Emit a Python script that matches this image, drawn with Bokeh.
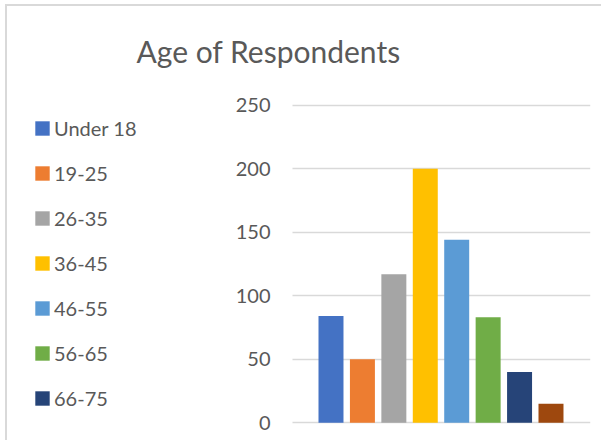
from bokeh.plotting import figure
from bokeh.models import Range1d, Legend, LegendItem, ColumnDataSource, FixedTicker
from bokeh.embed import file_html
from bokeh.resources import INLINE

categories = ["Under 18", "19-25", "26-35", "36-45", "46-55", "56-65", "66-75", "76+"]
counts = [84, 50, 117, 200, 144, 83, 40, 15]
colors = ["#4472C4", "#ED7D31", "#A5A5A5", "#FFC000", "#5B9BD5", "#70AD47", "#264478", "#9E480E"]
y_ticks = [0, 50, 100, 150, 200, 250]

FONT = "Lato"
GREY = "#595959"

X_LEFT, AXIS_X, X_RIGHT = -9.561, -1.225, 8.257

p = figure(width=596, height=436, output_backend="svg", toolbar_location=None,
           x_range=Range1d(X_LEFT, X_RIGHT), y_range=Range1d(-10, 260),
           min_border_left=23, min_border_right=13, min_border_top=86, min_border_bottom=7)

p.title.text = "Age of Respondents"
p.title.text_font = FONT
p.title.text_font_size = "30px"
p.title.text_font_style = "normal"
p.title.text_color = GREY
p.title.align = "left"
p.title.offset = 106
p.title.standoff = 48

src = ColumnDataSource(dict(x=list(range(len(categories))), top=counts, color=colors, cat=categories))
bars = p.vbar(x="x", top="top", bottom=0, width=0.795, color="color", line_color=None, source=src)

p.xaxis.visible = False
p.xgrid.visible = False
p.ygrid.grid_line_color = "#D9D9D9"
p.ygrid.grid_line_width = 1.5
p.ygrid.cross_bounds = (AXIS_X, X_RIGHT)
p.yaxis.ticker = FixedTicker(ticks=y_ticks)
p.yaxis.fixed_location = AXIS_X
p.yaxis.axis_line_color = None
p.yaxis.major_tick_line_color = None
p.yaxis.minor_tick_line_color = None
p.yaxis.major_tick_out = 0
p.yaxis.major_tick_in = 0
p.yaxis.major_label_standoff = 22
p.yaxis.major_label_text_font = FONT
p.yaxis.major_label_text_font_size = "20px"
p.yaxis.major_label_text_color = GREY
p.outline_line_color = None

items = [LegendItem(label=categories[i], renderers=[bars], index=i) for i in range(7)]
legend = Legend(items=items, location=(3, 25), orientation="vertical",
                glyph_width=18, glyph_height=18, label_standoff=3, label_height=20,
                spacing=21, padding=0, margin=0, border_line_color=None,
                background_fill_alpha=0,
                label_text_font=FONT, label_text_font_size="20px", label_text_color=GREY)
p.add_layout(legend, "center")

p.styles = {"border-top": "2px solid #D9D9D9", "border-left": "2px solid #D9D9D9",
            "margin-left": "5px", "margin-top": "4px"}

open("out.html", "w").write(file_html(p, INLINE))
